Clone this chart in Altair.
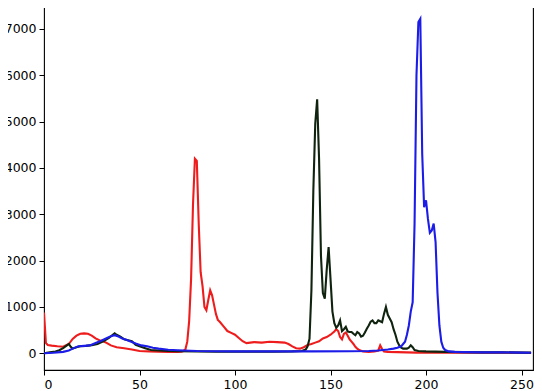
import altair as alt
import pandas as pd

# Red channel
red_x = [0,1,2,4,7,10,13,15,17,19,21,23,25,27,29,31,33,35,38,42,46,50,55,60,65,70,72,73,74,75,76,77,78,79,80,81,82,83,84,85,86,87,88,89,90,91,92,94,96,98,100,102,104,106,110,114,118,122,126,128,130,132,134,136,138,140,142,144,146,148,150,152,153,154,155,156,157,158,159,160,161,162,163,164,165,167,170,173,175,176,177,178,180,185,190,195,200,210,220,230,240,250,255]
red_y = [880,220,180,165,150,140,200,310,380,420,430,420,380,320,280,260,220,170,130,110,80,50,40,35,30,30,35,50,80,250,700,1600,3200,4200,4150,2800,1750,1450,1000,930,1150,1360,1250,1050,850,720,680,580,480,440,400,330,260,220,240,230,250,240,230,200,150,110,100,130,180,200,230,260,320,350,400,470,520,480,350,300,420,450,380,300,250,200,140,100,70,40,30,40,60,170,90,40,30,25,20,15,10,10,10,10,10,10,5]

# Green channel
green_x = [0,3,6,8,10,12,13,14,15,17,19,22,25,28,31,34,36,37,38,40,42,44,46,48,50,53,56,60,65,70,80,90,100,110,120,130,135,137,138,139,140,141,142,143,144,145,146,147,148,149,150,151,152,153,154,155,156,157,158,159,160,161,162,163,164,165,166,167,168,169,170,171,172,173,174,175,176,177,178,179,180,181,182,183,184,185,186,187,188,190,191,192,193,194,196,200,210,220,230,240,250,255]
green_y = [0,20,40,65,110,170,200,140,100,130,150,160,175,200,260,330,400,430,400,360,300,280,260,180,150,110,70,60,50,45,40,35,35,35,35,40,50,80,150,315,1360,3500,4950,5480,4200,2100,1300,1180,1800,2290,1600,900,650,550,600,710,480,520,570,470,460,460,420,390,460,430,360,380,450,530,600,680,710,650,650,710,690,670,850,1000,830,750,670,520,400,250,170,120,100,100,120,170,130,70,50,40,30,25,20,20,15,15]

# Blue channel
blue_x = [0,5,10,13,15,18,21,24,27,30,33,35,37,39,41,43,45,48,51,54,57,60,65,70,80,90,100,120,140,160,170,175,180,183,185,187,188,189,190,191,192,193,194,195,196,197,198,199,200,201,202,203,204,205,206,207,208,209,210,212,215,220,230,240,250,255]
blue_y = [0,10,30,60,100,150,160,170,220,270,330,370,390,360,320,290,260,210,170,150,120,100,75,65,50,45,40,40,40,45,50,60,80,100,120,150,200,250,400,600,900,1100,2800,6000,7150,7220,4300,3150,3300,2900,2600,2650,2800,2400,1300,600,250,120,70,40,30,25,20,20,15,10]

x_ticks = [0, 50, 100, 150, 200, 250]
y_ticks = [0, 1000, 2000, 3000, 4000, 5000, 6000, 7000]

xs = alt.Scale(domain=[0, 256], nice=False, zero=False)
ys = alt.Scale(domain=[-361, 7581], nice=False, zero=False)

x_axis = alt.Axis(values=x_ticks, grid=False, title=None, tickSize=5, labelPadding=3,
                  labelFontSize=12.5, labelColor="black", tickColor="black", format="d",
                  domain=False, labelFont="DejaVu Sans")
y_axis = alt.Axis(values=y_ticks, grid=False, title=None, tickSize=5, labelPadding=3,
                  labelFontSize=12.5, labelColor="black", tickColor="black", format="d",
                  domain=False, labelFont="DejaVu Sans")


def channel(xv, yv, color):
    df = pd.DataFrame({"x": xv, "y": yv})
    return alt.Chart(df).mark_line(color=color, strokeWidth=2.1, clip=True).encode(
        x=alt.X("x:Q", scale=xs, axis=x_axis),
        y=alt.Y("y:Q", scale=ys, axis=y_axis),
    )


chart = alt.layer(
    channel(red_x, red_y, "#ee1c1c"),
    channel(green_x, green_y, "#0f230f"),
    channel(blue_x, blue_y, "#1c1ce8"),
).properties(
    width=489, height=368,
    background="white",
    autosize=alt.AutoSizeParams(type="none"),
    padding={"left": 36, "top": -6, "right": 1, "bottom": 30},
).configure_view(stroke="black", strokeWidth=1.1)

chart.save("out.html", embed_options={"renderer": "svg", "actions": False})
